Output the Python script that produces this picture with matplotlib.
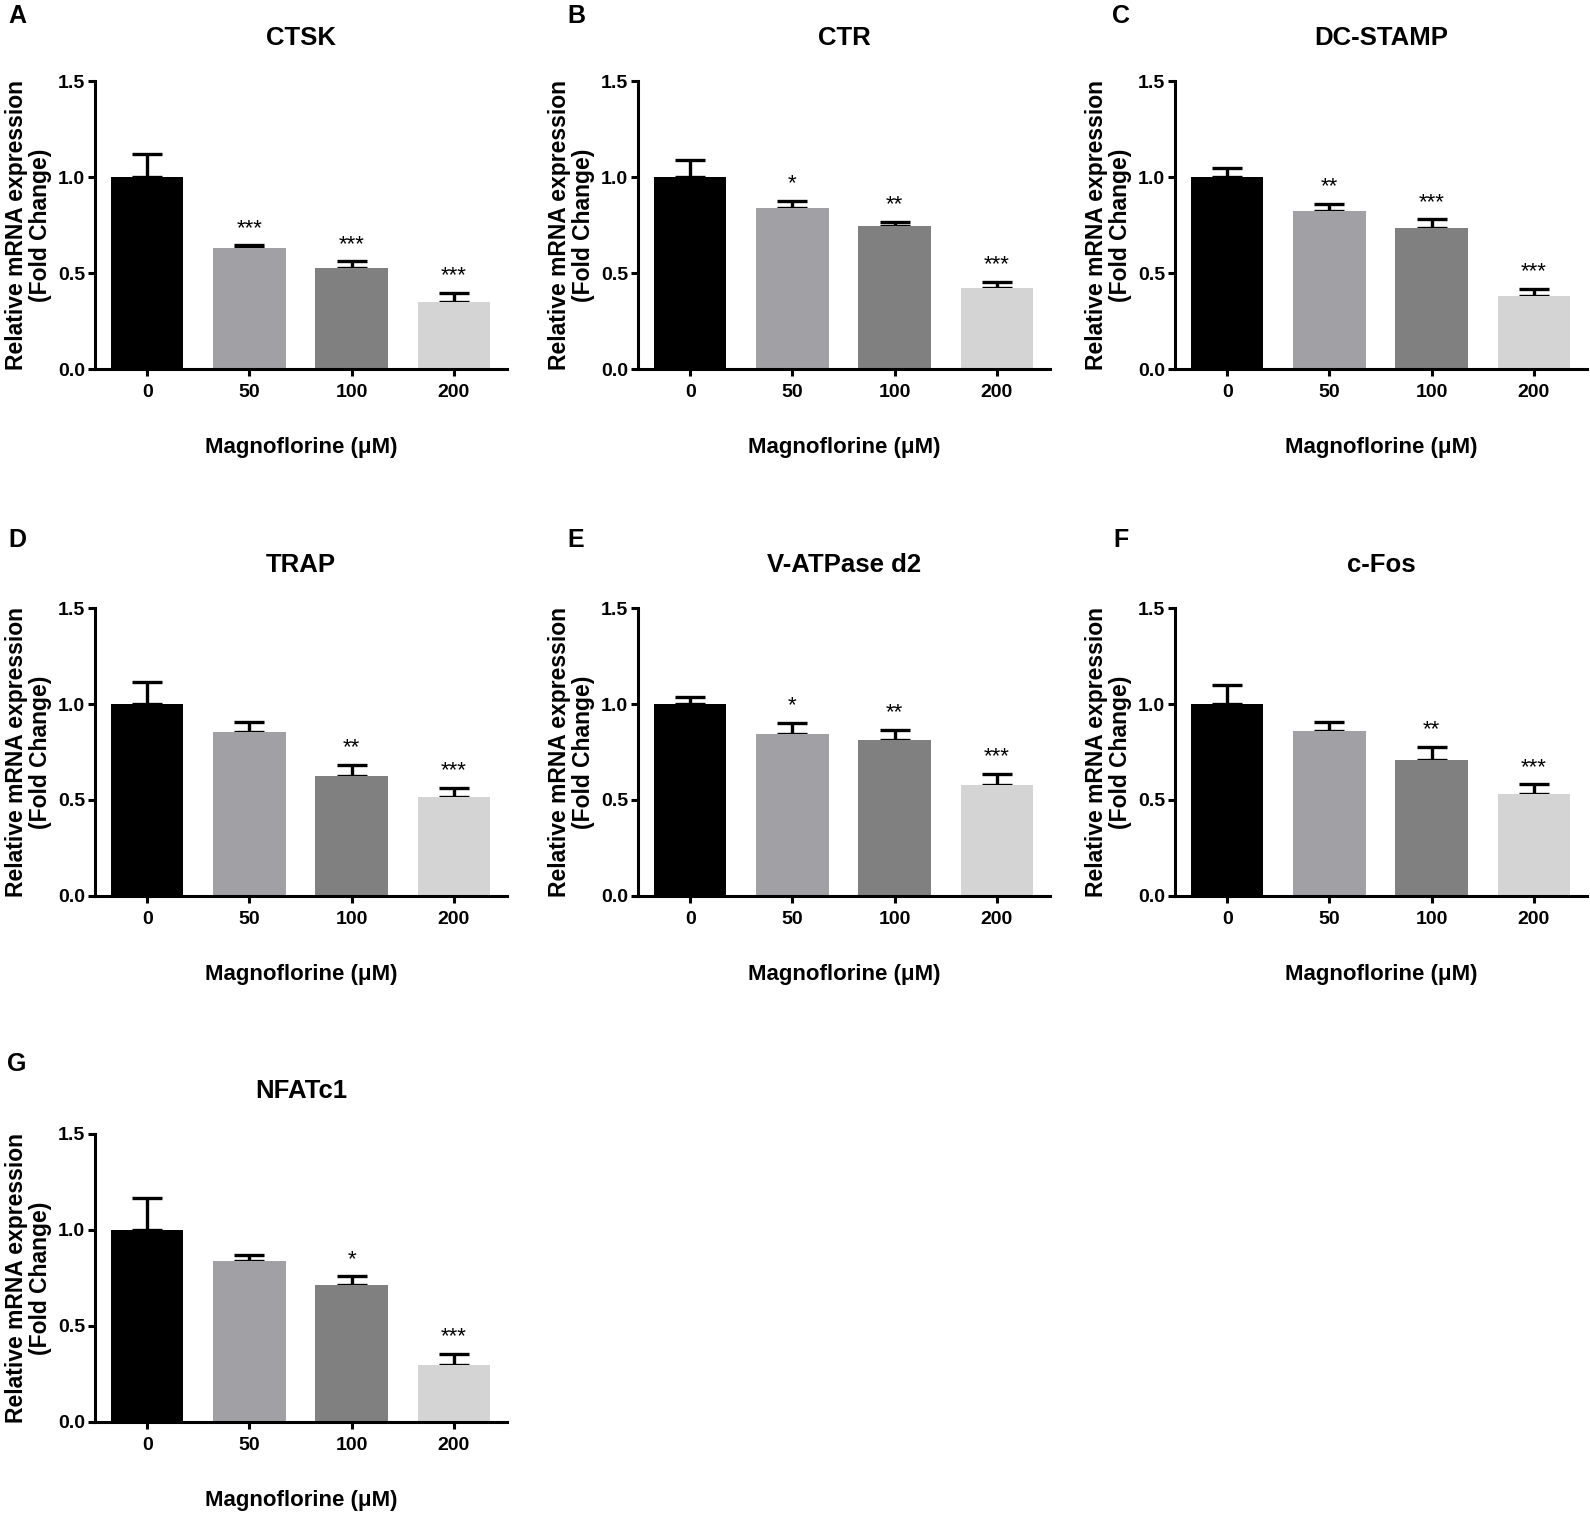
import matplotlib

matplotlib.use("Agg")
import matplotlib.pyplot as plt
import numpy as np

plt.rcParams["font.family"] = ["Liberation Sans", "DejaVu Sans"]

doses = ["0", "50", "100", "200"]
genes = ["CTSK", "CTR", "DC-STAMP", "TRAP", "V-ATPase d2", "c-Fos", "NFATc1"]
letters = ["A", "B", "C", "D", "E", "F", "G"]

means = [
    [1.00, 0.632, 0.526, 0.348],
    [1.00, 0.840, 0.746, 0.423],
    [1.00, 0.821, 0.736, 0.379],
    [1.00, 0.856, 0.625, 0.515],
    [1.00, 0.844, 0.811, 0.579],
    [1.00, 0.860, 0.710, 0.532],
    [1.00, 0.838, 0.713, 0.297],
]
sems = [
    [0.122, 0.012, 0.035, 0.050],
    [0.086, 0.035, 0.020, 0.030],
    [0.045, 0.038, 0.043, 0.040],
    [0.117, 0.052, 0.057, 0.050],
    [0.035, 0.057, 0.054, 0.058],
    [0.098, 0.048, 0.068, 0.049],
    [0.165, 0.030, 0.045, 0.058],
]
stars = [
    ["", "***", "***", "***"],
    ["", "*", "**", "***"],
    ["", "**", "***", "***"],
    ["", "", "**", "***"],
    ["", "*", "**", "***"],
    ["", "", "**", "***"],
    ["", "", "*", "***"],
]

bar_colors = ["#000000", "#a1a1a5", "#808080", "#d4d4d4"]

W, H = 1590, 1515
col_left = [95, 638, 1175]
row_top = [81, 608, 1134]
ax_w, ax_h = 412, 288
letter_x = [17, 576, 1121]
letter_y = [16, 540, 1064]

fig = plt.figure(figsize=(W / 100, H / 100), dpi=100)

for k, gene in enumerate(genes):
    r, c = divmod(k, 3)
    ax = fig.add_axes([col_left[c] / W, 1 - (row_top[r] + ax_h) / H, ax_w / W, ax_h / H])
    x = np.arange(len(doses))
    m = np.array(means[k])
    e = np.array(sems[k])
    ax.errorbar(x, m, yerr=[np.zeros_like(e), e], fmt="none", ecolor="black",
                elinewidth=2.4, capsize=11, capthick=2.4, zorder=1)
    ax.bar(x, m, width=0.71, color=bar_colors, zorder=2)
    for xi, mi, ei, s in zip(x, m, e, stars[k]):
        if s:
            ax.text(xi, mi + ei + 0.06, s, ha="center", va="baseline", fontsize=16)

    ax.set_xlim(-0.51, 3.52)
    ax.set_ylim(0, 1.5)
    ax.set_yticks([0, 0.5, 1.0, 1.5])
    ax.set_yticklabels(["0.0", "0.5", "1.0", "1.5"])
    ax.set_xticks(x)
    ax.set_xticklabels(doses)
    for sp in ["top", "right"]:
        ax.spines[sp].set_visible(False)
    for sp in ["left", "bottom"]:
        ax.spines[sp].set_linewidth(2.2)
    ax.tick_params(axis="both", width=2.2, length=5, labelsize=14)
    ax.tick_params(axis="y", pad=2)
    ax.tick_params(axis="x", pad=6)
    for lab in ax.get_xticklabels() + ax.get_yticklabels():
        lab.set_fontweight("bold")

    ax.set_ylabel("Relative mRNA expression\n(Fold Change)", fontsize=16.5,
                  fontweight="bold", labelpad=4, linespacing=1.1)
    ax.set_xlabel("Magnoflorine (μM)", fontsize=16, fontweight="bold", labelpad=26)
    ax.text(0.5, 1 + 43 / ax_h, gene, transform=ax.transAxes, ha="center",
            va="center", fontsize=18.5, fontweight="bold")
    fig.text(letter_x[c] / W, 1 - letter_y[r] / H, letters[k], ha="center",
             va="center", fontsize=18, fontweight="bold")

fig.savefig("out.png", dpi=100)
